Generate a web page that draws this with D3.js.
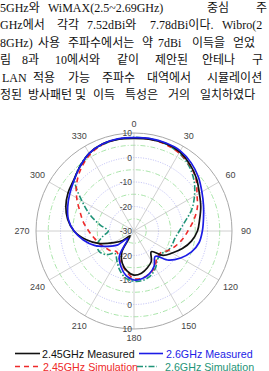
<!DOCTYPE html>
<html>
<head>
<meta charset="utf-8">
<script src="https://cdn.jsdelivr.net/npm/d3@7"></script>
<style>
  body { margin: 0; background: #fff; }
  svg { display: block; }
</style>
</head>
<body>
<div id="chart"></div>
<script>
// angles in degrees, clockwise from top
const angles = [0, 10, 20, 30, 40, 50, 60, 70, 80, 90, 100, 110, 120, 130, 140, 150, 160, 170,
                180, 190, 200, 210, 220, 230, 240, 250, 260, 270, 280, 290, 300, 310, 320, 330, 340, 350];

// gain in dBi
const meas245 = [7.8, 8.0, 8.0, 7.3, 5.5, 3.3, 0.8, -1.0, -2.8, -4.1, -6.2, -9.0, -12.0, -14.5, -19.0, -15.8, -14.0, -12.5,
                 -12.0, -13.5, -16.0, -20.0, -27.5, -24.0, -20.5, -15.0, -10.0, -5.5, -2.5, -0.4, 1.1, 2.2, 4.3, 6.6, 7.8, 8.0];
const meas26 = [8.1, 8.3, 8.2, 7.8, 6.3, 4.3, 2.0, 0.2, -1.2, -2.1, -3.0, -5.0, -8.0, -11.5, -16.5, -13.5, -11.5, -10.3,
                -10.0, -11.5, -14.5, -18.0, -26.0, -21.0, -17.5, -12.8, -9.0, -5.5, -2.8, -1.2, 0.3, 2.0, 4.3, 6.6, 7.8, 8.2];
const sim245 = [8.0, 8.0, 7.6, 6.8, 5.3, 3.0, -0.3, -2.5, -5.3, -8.0, -10.0, -12.0, -14.0, -16.0, -15.5, -13.0, -11.5, -10.5,
                -10.5, -13.0, -15.5, -17.5, -19.0, -17.5, -16.5, -15.0, -13.5, -11.5, -9.0, -6.5, -3.0, 0.5, 3.5, 6.0, 7.5, 8.0];
const sim26 = [8.2, 8.2, 7.8, 6.8, 4.8, 2.0, -1.5, -5.0, -9.0, -11.5, -13.0, -13.5, -14.0, -15.5, -15.0, -12.5, -10.5, -9.5,
               -9.5, -10.5, -13.0, -16.0, -18.0, -15.0, -13.5, -14.0, -17.0, -19.5, -16.0, -11.0, -5.5, 1.5, 4.5, 6.5, 7.5, 8.0];

const angleTicks = [0, 30, 60, 90, 120, 150, 180, 210, 240, 270, 300, 330];
const rTicksTop = [10, 0, -10, -20, -30];
const rTicksBottom = [-20, -10, 0, 10];
const majorRings = [0, -10, -20];
const minorRings = [5, -5, -15, -25];

const seriesNames = ["2.45GHz Measured", "2.6GHz Measured", "2.45GHz Simulation", "2.6GHz Simulation"];

// paragraph lines above the figure: [word, x]
const paragraph = [
  { y: 11.7, words: [["5GHz와", 0], ["WiMAX(2.5~2.69GHz)", 48], ["중심", 207], ["주", 256]] },
  { y: 29.3, words: [["GHz에서", 0], ["각각", 57], ["7.52dBi와", 87], ["7.78dBi이다.", 150], ["Wibro(2", 222]] },
  { y: 46.7, words: [["8GHz)", 0], ["사용", 38], ["주파수에서는", 68], ["약", 142], ["7dBi", 158], ["이득을", 192], ["얻었", 233]] },
  { y: 64.3, words: [["림", 0], ["8과", 22], ["10에서와", 55], ["같이", 117], ["제안된", 155], ["안테나", 202], ["구", 252]] },
  { y: 81.7, words: [["LAN", 2], ["적용", 33], ["가능", 68], ["주파수", 102], ["대역에서", 147], ["시뮬레이션", 207]] },
  { y: 99.3, words: [["정된", 0], ["방사패턴", 28], ["및", 75], ["이득", 93], ["특성은", 125], ["거의", 168], ["일치하였다", 200]] }
];

const width = 269, height = 371;
const cx = 134, cy = 231, R = 98;

const svg = d3.select("#chart").append("svg")
    .attr("width", width)
    .attr("height", height)
    .attr("viewBox", `0 0 ${width} ${height}`);

const txt = svg.append("g")
    .attr("font-family", "'Liberation Serif', 'Noto Sans CJK KR', serif")
    .attr("font-size", 12)
    .attr("fill", "#111");

paragraph.forEach(line => {
  line.words.forEach(([w, x]) => {
    txt.append("text").attr("x", x).attr("y", line.y).text(w);
  });
});

// polar chart
const r = d3.scaleLinear().domain([-30, 10]).range([0, R]).clamp(true);
const rad = d => d * Math.PI / 180;

const g = svg.append("g").attr("transform", `translate(${cx},${cy})`);

g.selectAll(".minor")
  .data(minorRings)
  .join("circle")
    .attr("r", d => r(d))
    .attr("fill", "none")
    .attr("stroke", "#86da86")
    .attr("stroke-width", 0.7)
    .attr("stroke-dasharray", "5,2,1,2");

g.selectAll(".major")
  .data(majorRings)
  .join("circle")
    .attr("r", d => r(d))
    .attr("fill", "none")
    .attr("stroke", "#a0a0f0")
    .attr("stroke-width", 0.7)
    .attr("stroke-dasharray", "1,1.5");

g.selectAll(".spoke")
  .data(angleTicks)
  .join("line")
    .attr("x1", 0).attr("y1", 0)
    .attr("x2", d => R * Math.sin(rad(d)))
    .attr("y2", d => -R * Math.cos(rad(d)))
    .attr("stroke", "#c4c4c4")
    .attr("stroke-width", 0.8);

g.append("circle")
    .attr("r", r(10))
    .attr("fill", "none")
    .attr("stroke", "#a8a8a8")
    .attr("stroke-width", 1);

// angle labels
g.selectAll(".alabel")
  .data(angleTicks)
  .join("text")
    .attr("x", d => (R + 9 + 5 * Math.abs(Math.sin(rad(d)))) * Math.sin(rad(d)))
    .attr("y", d => -(R + 9 + 5 * Math.abs(Math.sin(rad(d)))) * Math.cos(rad(d)))
    .attr("text-anchor", "middle")
    .attr("dominant-baseline", "central")
    .attr("font-family", "'Liberation Sans', Arial, sans-serif")
    .attr("font-size", 9)
    .attr("fill", "#444")
    .text(d => d);

// radial labels
const rl = g.append("g")
    .attr("font-family", "'Liberation Sans', Arial, sans-serif")
    .attr("font-size", 8.5)
    .attr("fill", "#444")
    .attr("text-anchor", "end")
    .attr("dominant-baseline", "central");

rl.selectAll(".rt")
  .data(rTicksTop)
  .join("text")
    .attr("x", -2)
    .attr("y", d => -r(d))
    .text(d => d);

rl.selectAll(".rb")
  .data(rTicksBottom)
  .join("text")
    .attr("x", -2)
    .attr("y", d => r(d))
    .text(d => d);

// pattern curves
const line = d3.lineRadial()
    .angle((d, i) => rad(angles[i]))
    .radius(d => r(d))
    .curve(d3.curveCatmullRomClosed.alpha(0.5));

const styles = [
  { data: sim26, color: "#1f9478", dash: "6,2,1.5,2", w: 1.6 },
  { data: sim245, color: "#ee2a2a", dash: "5,4", w: 1.6 },
  { data: meas245, color: "#111111", dash: null, w: 1.7 },
  { data: meas26, color: "#1c1ce6", dash: null, w: 1.7 }
];

styles.forEach(s => {
  g.append("path")
      .datum(s.data)
      .attr("fill", "none")
      .attr("stroke", s.color)
      .attr("stroke-width", s.w)
      .attr("stroke-dasharray", s.dash)
      .attr("stroke-linejoin", "round")
      .attr("d", line);
});

// legend
const legendItems = [
  { name: seriesNames[0], color: "#111111", dash: null, x1: 15, x2: 40, tx: 42, y: 353.5 },
  { name: seriesNames[1], color: "#1c1ce6", dash: null, x1: 139, x2: 163, tx: 166, y: 353.5 },
  { name: seriesNames[2], color: "#ee2a2a", dash: "5,4", x1: 15, x2: 42, tx: 43, y: 366.5 },
  { name: seriesNames[3], color: "#1f9478", dash: "6,2,1.5,2", x1: 137, x2: 157, tx: 165, y: 366.5 }
];

const lg = svg.append("g")
    .attr("font-family", "'Liberation Sans', Arial, sans-serif")
    .attr("font-size", 10.7);

legendItems.forEach(d => {
  lg.append("line")
      .attr("x1", d.x1).attr("x2", d.x2)
      .attr("y1", d.y).attr("y2", d.y)
      .attr("stroke", d.color)
      .attr("stroke-width", 1.6)
      .attr("stroke-dasharray", d.dash);
  lg.append("text")
      .attr("x", d.tx)
      .attr("y", d.y)
      .attr("dominant-baseline", "central")
      .attr("fill", d.color)
      .text(d.name);
});
</script>
</body>
</html>
